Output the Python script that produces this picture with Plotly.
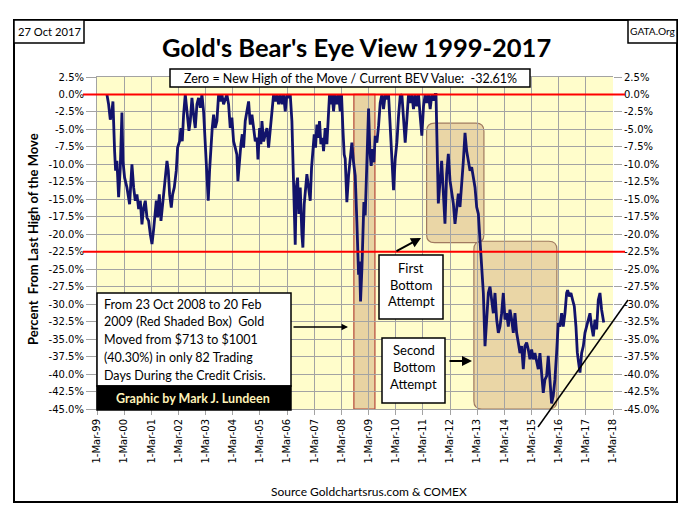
import plotly.graph_objects as go
from datetime import datetime

# ---------------- data (decimal years, BEV %) ----------------
years_1999_2002 = [1999.528,1999.589,1999.651,1999.712,1999.749,1999.773,1999.810,1999.847,1999.896,1999.958,
    2000.019,2000.080,2000.117,2000.178,2000.264,2000.362,2000.448,2000.510,2000.571,2000.632,2000.694,2000.755,
    2000.816,2000.878,2000.939,2001.000,2001.062,2001.123,2001.185,2001.246,2001.307,2001.344,2001.393,2001.455,
    2001.516,2001.553,2001.614,2001.676,2001.737,2001.786,2001.835,2001.896,2001.945,2002.007,2002.080,2002.129,
    2002.203,2002.252,2002.301,2002.350,2002.412,2002.448,2002.497,2002.547,2002.596,2002.657,2002.718,2002.780,
    2002.841,2002.902,2002.964]
bev_1999_2002 = [0,-1.4,-3.6,-2.4,-1.0,-4.8,-8.1,-10.9,-9.5,-14.7,-10.5,-2.6,-9.5,-11.9,-13.3,-15.7,-10.0,-13.3,
    -15.2,-14.3,-16.4,-15.2,-18.6,-16.2,-15.2,-17.6,-18.1,-20.0,-21.4,-19.3,-17.1,-15.2,-17.6,-14.3,-18.1,-16.2,
    -14.3,-11.9,-9.5,-10.9,-14.3,-16.2,-14.3,-13.3,-10.9,-7.6,-6.7,-4.8,-6.7,-2.9,0,-1.4,-2.9,-5.2,-3.8,-0.5,
    -2.9,-4.8,-1.4,-0.5,-1.9]

years_2003_2006 = [2003.025,2003.086,2003.148,2003.209,2003.258,2003.307,2003.356,2003.405,2003.455,2003.516,
    2003.577,2003.639,2003.700,2003.761,2003.823,2003.884,2003.945,2004.007,2004.068,2004.129,2004.191,2004.252,
    2004.313,2004.350,2004.399,2004.461,2004.510,2004.559,2004.620,2004.681,2004.743,2004.804,2004.866,2004.927,
    2004.988,2005.050,2005.087,2005.148,2005.197,2005.234,2005.295,2005.357,2005.418,2005.479,2005.540,2005.602,
    2005.663,2005.724,2005.786,2005.847,2005.909,2005.970,2006.031,2006.093,2006.154,2006.215,2006.277]
bev_2003_2006 = [0,-2.4,-6.7,-11.4,-15.2,-10.9,-7.1,-4.8,-2.9,-4.8,-3.8,0,-1.0,0,-1.4,-0.5,0,-1.4,-4.8,-3.3,
    -6.7,-7.6,-8.6,-12.4,-9.5,-7.1,-5.7,-7.6,-3.8,-2.4,-1.0,-4.3,-2.9,-4.8,-6.7,-6.2,-9.3,-4.8,-7.1,-3.8,-6.7,
    -5.7,-4.8,-7.6,-5.2,-2.4,0,-1.0,0,-1.4,0,-1.4,0,-2.4,0,-0.5,0]

years_2006_2009 = [2006.338,2006.375,2006.424,2006.461,2006.498,2006.547,2006.596,2006.645,2006.706,2006.743,
    2006.792,2006.841,2006.890,2006.951,2007.013,2007.062,2007.111,2007.160,2007.209,2007.258,2007.307,2007.356,
    2007.405,2007.467,2007.504,2007.565,2007.627,2007.688,2007.724,2007.773,2007.823,2007.872,2007.933,2007.994,
    2008.056,2008.117,2008.166,2008.215,2008.264,2008.301,2008.362,2008.424,2008.485,2008.546,2008.608,2008.669,
    2008.730,2008.767,2008.792,2008.829,2008.865,2008.915,2008.951,2008.988,2009.037,2009.074,2009.111,2009.160]
bev_2006_2009 = [-3.8,-8.6,-14.3,-21.5,-13.3,-11.9,-17.1,-13.3,-20.0,-21.9,-15.7,-12.8,-11.4,-13.3,-15.2,-10.5,
    -8.1,-5.7,-7.6,-4.3,-6.2,-3.8,-7.1,-6.2,-8.1,-4.8,-7.1,-1.9,0,-1.4,0,-2.4,0,-1.4,0,-2.4,0,-4.8,-8.6,-9.2,
    -15.4,-11.6,-9.2,-6.9,-9.7,-11.6,-18.2,-22.0,-25.8,-23.9,-29.6,-24.9,-20.1,-15.4,-17.3,-13.0,-9.2,-2.0]

years_2009_2011 = [2009.209,2009.258,2009.307,2009.356,2009.405,2009.467,2009.528,2009.589,2009.651,2009.712,
    2009.773,2009.835,2009.896,2009.957,2010.019,2010.080,2010.142,2010.203,2010.264,2010.326,2010.387,2010.448,
    2010.510,2010.571,2010.632,2010.694,2010.755,2010.816,2010.878,2010.939,2011.000,2011.062,2011.123,2011.185,
    2011.246,2011.307,2011.369,2011.430,2011.491,2011.553,2011.614]
bev_2009_2011 = [-8.3,-10.2,-7.8,-9.7,-5.9,-6.9,-4.5,-1.2,0,-2.1,0,-0.7,0,-4.5,-8.8,-13.7,-9.2,-6.9,-3.1,-0.2,0,
    -3.1,-6.9,-3.6,0,-1.2,0,-2.1,0,-1.7,0,-3.1,-5.9,-1.7,0,-1.2,0,-2.1,0,-0.9,0]

years_2011_2013 = [2011.645,2011.694,2011.731,2011.853,2011.915,2011.976,2012.037,2012.099,2012.160,2012.221,
    2012.283,2012.344,2012.405,2012.467,2012.528,2012.589,2012.651,2012.712,2012.773,2012.835,2012.896,2012.957,
    2013.018,2013.080,2013.141,2013.203,2013.264,2013.325,2013.387,2013.448,2013.509,2013.571,2013.632,2013.693,
    2013.755,2013.816,2013.878,2013.939]
bev_2011_2013 = [0,-7.6,-15.6,-9.5,-13.3,-18.5,-11.4,-8.5,-12.3,-14.2,-15.6,-18.5,-16.6,-14.2,-16.1,-13.3,-9.5,
    -5.5,-8.1,-9.5,-10.9,-10.4,-11.8,-13.3,-16.1,-17.1,-20.9,-25.6,-28.4,-36.0,-31.3,-28.4,-27.5,-29.4,-31.3,
    -28.4,-32.2,-34.1]

years_2014_2017 = [2014.000,2014.061,2014.123,2014.184,2014.245,2014.307,2014.368,2014.430,2014.491,2014.552,
    2014.614,2014.675,2014.736,2014.798,2014.859,2014.920,2014.982,2015.043,2015.104,2015.166,2015.227,2015.288,
    2015.350,2015.411,2015.472,2015.534,2015.595,2015.656,2015.718,2015.779,2015.840,2015.902,2015.963,2016.024,
    2016.086,2016.147,2016.209,2016.270,2016.331,2016.393,2016.454,2016.491,2016.552,2016.613,2016.675,2016.736,
    2016.797,2016.847,2016.896,2016.945,2017.006,2017.068,2017.129,2017.190,2017.252,2017.313,2017.374,2017.436,
    2017.497,2017.558,2017.620,2017.681,2017.742,2017.820]
bev_2014_2017 = [-33.2,-31.3,-28.4,-32.2,-31.3,-33.2,-30.8,-32.2,-34.1,-31.3,-34.1,-35.5,-37.0,-36.0,-39.3,-36.0,
    -35.5,-36.5,-37.9,-36.5,-37.9,-37.0,-38.4,-39.3,-37.0,-40.3,-42.7,-40.8,-40.3,-37.4,-40.8,-44.2,-43.1,-40.8,
    -37.0,-32.7,-33.2,-31.3,-33.2,-31.3,-28.4,-28.0,-28.9,-28.4,-29.4,-30.3,-33.2,-36.9,-38.4,-39.8,-37.0,-36.0,
    -34.1,-33.2,-32.2,-31.3,-33.2,-34.6,-32.2,-33.6,-29.4,-28.4,-30.8,-32.61]

x_tick_dates = ["1999-03-01","2000-03-01","2001-03-01","2002-03-01","2003-03-01","2004-03-01","2005-03-01",
    "2006-03-01","2007-03-01","2008-03-01","2009-03-01","2010-03-01","2011-03-01","2012-03-01","2013-03-01",
    "2014-03-01","2015-03-01","2016-03-01","2017-03-01","2018-03-01"]
x_tick_labels = ["1-Mar-99","1-Mar-00","1-Mar-01","1-Mar-02","1-Mar-03","1-Mar-04","1-Mar-05","1-Mar-06",
    "1-Mar-07","1-Mar-08","1-Mar-09","1-Mar-10","1-Mar-11","1-Mar-12","1-Mar-13","1-Mar-14","1-Mar-15",
    "1-Mar-16","1-Mar-17","1-Mar-18"]
y_tick_values = [2.5,0,-2.5,-5,-7.5,-10,-12.5,-15,-17.5,-20,-22.5,-25,-27.5,-30,-32.5,-35,-37.5,-40,-42.5,-45]
ref_levels = [0, -22.5]
red_box_dates = ["2008-08-15", "2009-05-25"]          # shaded crisis box as drawn
first_box = ["2011-04-20", "2013-05-30", -4.1, -21.2]   # first bottom attempt
second_box = ["2013-01-15", "2016-02-05", -21.0, -45.0] # second bottom attempt

# ---------------- build ----------------
def dec_to_date(y):
    yr = int(y)
    a, b = datetime(yr, 1, 1), datetime(yr + 1, 1, 1)
    return a + (b - a) * (y - yr)

years = years_1999_2002 + years_2003_2006 + years_2006_2009 + years_2009_2011 + years_2011_2013 + years_2014_2017
bev = bev_1999_2002 + bev_2003_2006 + bev_2006_2009 + bev_2009_2011 + bev_2011_2013 + bev_2014_2017
dates = [dec_to_date(y) for y in years]

W, H = 688, 509
L, R, T, B = 97, 613, 77, 409
X0, X1 = datetime(1999, 3, 1), datetime(2018, 3, 1)
Y0, Y1 = -45, 2.5

def px(x):
    return (x - L) / (R - L)

def py(y):
    return (B - y) / (B - T)

def dfrac(d):
    d = datetime.fromisoformat(d)
    return (d - X0).total_seconds() / (X1 - X0).total_seconds()

def vfrac(v):
    return (v - Y0) / (Y1 - Y0)

TXT = "Lato, 'Open Sans', sans-serif"
TICK = "'DejaVu Sans', Verdana, sans-serif"

fig = go.Figure()
fig.add_trace(go.Scatter(x=dates, y=bev, mode="lines", line=dict(color="#12136B", width=2.8),
                         showlegend=False, hoverinfo="skip"))
fig.add_trace(go.Scatter(x=dates, y=bev, mode="lines", yaxis="y2", line=dict(width=0),
                         opacity=0, showlegend=False, hoverinfo="skip"))

ytext = [f"{v:.1f}%" for v in y_tick_values]
grid = "#A3A3A3"
fig.update_layout(
    width=W, height=H,
    margin=dict(l=L, r=W - R, t=T, b=H - B, pad=0),
    paper_bgcolor="white", plot_bgcolor="#FFFDCB",
    showlegend=False,
    xaxis=dict(type="date", range=[X0, X1], tickvals=x_tick_dates, ticktext=x_tick_labels,
               tickangle=-90, showgrid=True, gridcolor=grid, gridwidth=1, zeroline=False,
               ticks="outside", ticklen=5, tickcolor=grid, showline=True, linecolor=grid, mirror=True,
               tickfont=dict(family=TICK, size=10, color="black")),
    yaxis=dict(range=[Y0, Y1], tickvals=y_tick_values, ticktext=ytext, showgrid=True, gridcolor=grid,
               zeroline=False, ticks="outside", ticklen=10, tickcolor=grid, showline=True, linecolor=grid,
               tickfont=dict(family=TICK, size=10, color="black")),
    yaxis2=dict(range=[Y0, Y1], overlaying="y", side="right", tickvals=y_tick_values, ticktext=ytext,
                showgrid=False, zeroline=False, ticks="outside", ticklen=8, tickcolor=grid,
                tickfont=dict(family=TICK, size=10, color="black")),
)

shapes = []
# crisis red box
shapes.append(dict(type="rect", xref="x", yref="y", x0=red_box_dates[0], x1=red_box_dates[1], y0=Y0, y1=0,
                   fillcolor="rgba(214,176,130,0.55)", line=dict(color="#B5473A", width=1.2), layer="below"))

def rounded(x0, y0, x1, y1, r=8):
    rx, ry = r / (R - L), r / (B - T)
    return (f"M {x0+rx},{y0} L {x1-rx},{y0} Q {x1},{y0} {x1},{y0+ry} L {x1},{y1-ry} Q {x1},{y1} {x1-rx},{y1} "
            f"L {x0+rx},{y1} Q {x0},{y1} {x0},{y1-ry} L {x0},{y0+ry} Q {x0},{y0} {x0+rx},{y0} Z")

for bx in (first_box, second_box):
    shapes.append(dict(type="path", xref="x domain", yref="y domain",
                       path=rounded(dfrac(bx[0]), vfrac(bx[3]), dfrac(bx[1]), vfrac(bx[2])),
                       fillcolor="rgba(214,176,130,0.5)", line=dict(color="#A07A60", width=1.2), layer="below"))

for lv in ref_levels:
    shapes.append(dict(type="line", xref="paper", yref="y", x0=px(83), x1=px(625), y0=lv, y1=lv,
                       line=dict(color="#FF0000", width=2)))

# trend line
shapes.append(dict(type="line", xref="paper", yref="paper", x0=px(538), y0=py(427), x1=px(628), y1=py(300),
                   line=dict(color="black", width=1.5)))

def box(x0, y0, x1, y1, fill="white", w=1.5):
    shapes.append(dict(type="rect", xref="paper", yref="paper", x0=px(x0), x1=px(x1), y0=py(y1), y1=py(y0),
                       fillcolor=fill, line=dict(color="black", width=w)))

box(14, 20, 677, 502, fill="rgba(0,0,0,0)", w=2)
box(14, 20, 84, 43)
box(628, 20, 677, 43)
box(170, 69, 530, 87)
box(97, 293, 291, 386)
box(97, 386, 291, 410, fill="black")
box(379, 255, 443, 319)
box(382, 338, 445, 403)
fig.update_layout(shapes=shapes)

ann = []
def text(x, y, s, size=13, family=TXT, color="black", xanchor="center", bold=False, angle=0):
    ann.append(dict(xref="paper", yref="paper", x=px(x), y=py(y), text=(f"<b>{s}</b>" if bold else s),
                    showarrow=False, xanchor=xanchor, yanchor="middle", textangle=angle,
                    font=dict(family=family, size=size, color=color)))

text(356, 47, "Gold's Bear's Eye View 1999-2017", size=25.5, bold=True)
text(49, 31, "27 Oct 2017", size=11.2)
text(652.5, 31, "GATA.Org", size=10.2)
text(350, 78, "Zero = New High of the Move / Current BEV Value:  -32.61%", size=12.5)
left_lines = ["From 23 Oct 2008 to 20 Feb", "2009 (Red Shaded Box)  Gold", "Moved from $713 to $1001",
              "(40.30%) in only 82 Trading", "Days During the Credit Crisis."]
for i, s in enumerate(left_lines):
    text(102, 304 + i * 17.8, s, size=12.5, xanchor="left")
text(193, 398, "Graphic by Mark J. Lundeen", size=12.5, color="#FFF3B8", bold=True)
for i, s in enumerate(["First", "Bottom", "Attempt"]):
    text(411, 268 + i * 16.7, s, size=13)
for i, s in enumerate(["Second", "Bottom", "Attempt"]):
    text(413.5, 350 + i * 16.8, s, size=13)
text(369, 491, "Source Goldchartsrus.com & COMEX", size=12)
text(33, 239, "Percent  From Last High of the Move", size=13, bold=True, angle=-90)

def arrow(x0, y0, x1, y1, w=2):
    ann.append(dict(xref="paper", yref="paper", x=px(x1), y=py(y1), ax=x0 - x1, ay=y0 - y1,
                    axref="pixel", ayref="pixel", text="", showarrow=True, arrowhead=2, arrowsize=1,
                    arrowwidth=w, arrowcolor="black"))

arrow(292, 327, 348, 327, w=1.3)
arrow(395, 252, 421, 238)
arrow(448, 361, 472, 361)
fig.update_layout(annotations=ann)

fig.write_html("out.html", config={"displayModeBar": False},
               post_script="document.body.style.margin='0px';document.body.style.overflow='hidden';")
